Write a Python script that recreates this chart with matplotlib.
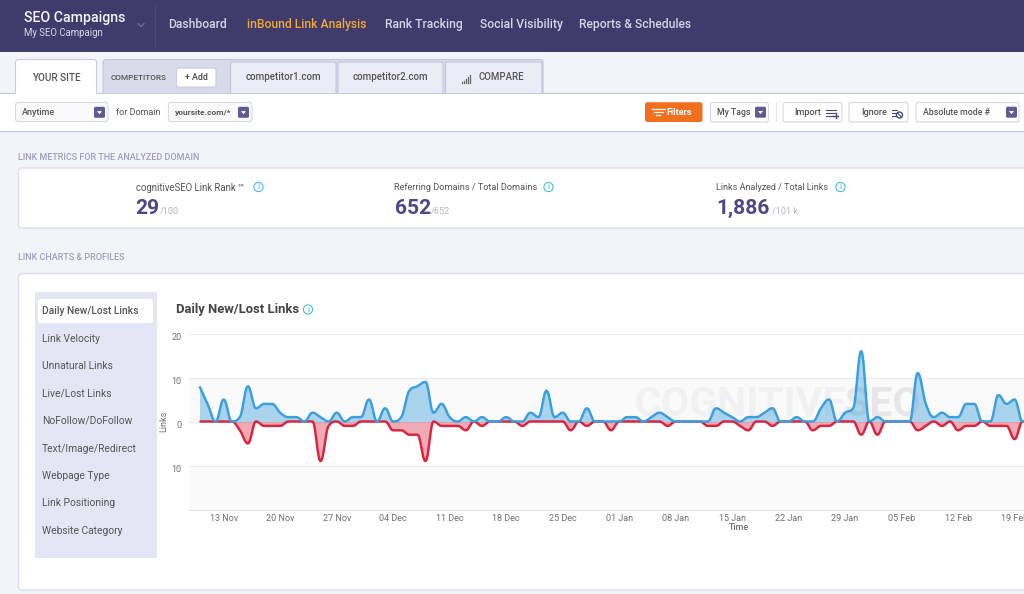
import numpy as np
import matplotlib
matplotlib.use("Agg")
import matplotlib.pyplot as plt
from matplotlib.patches import FancyBboxPatch, Rectangle, Circle, Polygon
from matplotlib.transforms import ScaledTranslation

new_links = [8,4,0,5,0,1,8,3,4,4, 2,1,1,0,2,1,0,2,0,1, 1,5,0,3,0,1,7,8,9,2,
             4,1,0,1,0,1,0,0,1,0, 0,2,1,7,1,2,0,0,3,0, 0,0,0,1,1,0,1,2,1,0,
             0,0,0,0,3,2,1,0,1,1, 2,3,0,0,1,0,0,3,5,0, 2,3,16,0,1,0,0,0,0,11,
             4,1,2,1,1,4,4,0,0,6, 4,5,0,0]
lost_links = [0,0,0,0,0,-2,-5,0,-1,-1, -1,0,0,0,0,-9,-1,0,-1,-1, 0,0,0,0,-2,-2,-3,-3,-9,0,
              -1,-1,-1,-2,0,-1,0,0,0,0, -1,0,0,0,0,0,-2,0,-1,0, 0,-2,0,0,0,0,0,0,-1,0,
              0,0,0,-1,-1,0,0,-1,-2,0, 0,-1,0,0,0,0,-2,-1,-1,0, 0,0,-3,0,-3,0,0,0,0,-2,
              -1,0,-1,0,-2,-1,-1,0,-1,-1, -1,-4,0,0]
days = list(range(len(new_links)))
date_labels = ["13 Nov","20 Nov","27 Nov","04 Dec","11 Dec","18 Dec","25 Dec","01 Jan",
               "08 Jan","15 Jan","22 Jan","29 Jan","05 Feb","12 Feb","19 Feb"]
date_ticks = [3,10,17,24,31,38,45,52,59,66,73,80,87,94,101]
y_ticks = [-20,-10,0,10,20]
y_labels = ["","10","0","10","20"]
nav_items = ["Dashboard","inBound Link Analysis","Rank Tracking","Social Visibility","Reports & Schedules"]
side_items = ["Daily New/Lost Links","Link Velocity","Unnatural Links","Live/Lost Links","NoFollow/DoFollow",
              "Text/Image/Redirect","Webpage Type","Link Positioning","Website Category"]

FONT = ["Roboto","DejaVu Sans"]
plt.rcParams["font.family"] = FONT
fig = plt.figure(figsize=(10.24,5.94), dpi=100, facecolor="#f3f4f9")
pg = fig.add_axes([0,0,1,1]); pg.set_xlim(0,1024); pg.set_ylim(594,0); pg.axis("off")

def px(s): return s*0.72
def rect(x0,y0,x1,y1,fc,ec="none",r=0,lw=0.8,z=1):
    if r:
        p = FancyBboxPatch((x0,y0),x1-x0,y1-y0,boxstyle=f"round,pad=0,rounding_size={r}",fc=fc,ec=ec,lw=lw,zorder=z)
    else:
        p = Rectangle((x0,y0),x1-x0,y1-y0,fc=fc,ec=ec,lw=lw,zorder=z)
    pg.add_patch(p)
def txt(x,y,s,size,color="#555",weight="normal",ha="left",z=5,**k):
    pg.text(x,y,s,fontsize=px(size),color=color,fontweight=weight,ha=ha,va="center",zorder=z,**k)
def info(x,y):
    pg.add_patch(Circle((x,y),4.6,fc="white",ec="#45bfe6",lw=0.8,zorder=5))
    txt(x,y+0.3,"i",8,"#35aede",ha="center")
def drop(x,y):
    rect(x-5.5,y-5.5,x+5.5,y+5.5,"#5f5b94",r=1.5,z=4)
    pg.add_patch(Polygon([(x-2.5,y-1.2),(x+2.5,y-1.2),(x,y+2)],fc="white",ec="none",zorder=5))

# header
rect(0,0,1024,51.5,"#3f3b6c")
pg.plot([155,155],[5,46],color="#4d4a7b",lw=0.8,zorder=2)
txt(24,18,"SEO Campaigns",14.1,"#f3f3f8",weight="medium")
txt(24,32.5,"My SEO Campaign",9.6,"#d8d8e8")
pg.plot([138,141,144],[23.5,26.5,23.5],color="#77749f",lw=0.8,zorder=3)
for x,s,c in zip([168.5,247,385,480.5,579],nav_items,["#d4d5e6","#f0a932","#d4d5e6","#d4d5e6","#d4d5e6"]):
    txt(x,24.8,s,12.1,c,weight="medium")

# tabs + toolbar
rect(0,93,1024,130.5,"white")
pg.plot([0,1024],[93.3,93.3],color="#c9cade",lw=0.9,zorder=2)
pg.plot([0,1024],[130.7,130.7],color="#c9cade",lw=0.9,zorder=2)
rect(103,59.5,543,95,"#d9daea",ec="#c4c5dc",r=3,z=2)
rect(15.5,59.5,96.5,94,"white",ec="#c9cade",r=3,z=3)
rect(16.2,88,95.8,96,"white",z=3)
txt(56,78,"YOUR SITE",10,"#555",weight="medium",ha="center")
txt(111,78,"COMPETITORS",8.3,"#555",weight="medium")
rect(176.5,68,216,87,"white",ec="#c9cade",r=2,z=3)
txt(196,77,"+ Add",8.8,"#444",weight="medium",ha="center")
for x0,x1,s in [(230.5,336,"competitor1.com"),(338,443,"competitor2.com")]:
    rect(x0,62,x1,96,"#ebecf5",ec="#c4c5dc",r=2,z=3)
    txt((x0+x1)/2,77.5,s,9.8,"#555",weight="medium",ha="center")
rect(445.5,62,542,96,"#ebecf5",ec="#c4c5dc",r=2,z=3)
txt(478.5,77.5,"COMPARE",9.7,"#555",weight="medium")
for i,h in enumerate([1,2,4,6,8]):
    pg.plot([462+i*2.1]*2,[83-h,83],color="#666",lw=0.9,zorder=5)
rect(0,93.5,1024,96.5,"white",z=3.5)
rect(97,93.3,1024,93.9,"#c9cade",z=4)
for a,b,l,sz,tx,dx in [(15.5,108,"Anytime",9,22,99.5),(168.5,252,"yoursite.com/*",8.4,175,243.5)]:
    rect(a,102.5,b,121.5,"#fafafc",ec="#d5d6e6",r=2.5,z=4)
    txt(tx,112.3,l,sz,"#555",weight="bold" if a>100 else "medium")
    drop(dx,112.3)
txt(116,112.5,"for Domain",9,"#555")
rect(645,102.2,702.5,122,"#f26f1e",r=2.5,z=4)
txt(666.5,112.3,"Filters",9,"white",weight="bold")
for w,yy in [(6.5,109),(4.5,112),(2,115)]:
    pg.plot([658-w,658+w],[yy,yy],color="white",lw=0.9,zorder=5)
rect(710.5,102.5,768.5,122,"white",ec="#d5d6e6",r=2.5,z=4)
txt(717,112.2,"My Tags",8.8,"#555",weight="medium"); drop(760.5,112.2)
pg.plot([776,776],[103,121],color="#e3e4ee",lw=0.8,zorder=4)
rect(783,102.5,842,122,"white",ec="#d5d6e6",r=2.5,z=4)
txt(794,112.2,"Import",9.2,"#555",weight="medium")
for yy,x1 in [(110,836),(113,836),(116,833)]:
    pg.plot([826,x1],[yy,yy],color="#47477a",lw=0.8,zorder=5)
pg.plot([833,838],[115.5,115.5],color="#47477a",lw=1,zorder=5); pg.plot([835.5,835.5],[113,118],color="#47477a",lw=1,zorder=5)
rect(849,102.5,908,122,"white",ec="#d5d6e6",r=2.5,z=4)
txt(861,112.2,"Ignore",9.2,"#555",weight="medium")
for yy in [110,113,116]:
    pg.plot([892,897],[yy,yy],color="#47477a",lw=0.8,zorder=5)
pg.add_patch(Circle((899.5,115),3,fc="white",ec="#47477a",lw=1,zorder=6))
pg.plot([897.5,901.5],[113,117],color="#47477a",lw=0.8,zorder=7)
rect(916,102.5,1019,122,"white",ec="#d5d6e6",r=2.5,z=4)
txt(923,112.2,"Absolute mode #",8.8,"#555",weight="medium"); drop(1011.5,112.2)

# metrics
txt(18.5,157,"LINK METRICS FOR THE ANALYZED DOMAIN",9,"#9d9dbf",weight="medium")
rect(18.5,168,1040,228,"white",ec="#dcdded",r=3,lw=1)
for x,lab,ls,big,small,sx,ix in [(135.5,"cognitiveSEO Link Rank ™",9.7,"29","/100",159.5,258.5),
                                 (394.5,"Referring Domains / Total Domains",9.15,"652","/652",431,548.5),
                                 (716,"Links Analyzed / Total Links",9.05,"1,886","/101 k",772.5,840.5)]:
    txt(x,188,lab,ls,"#555")
    txt(x,208.5,big,21,"#4c4787",weight="bold")
    txt(sx,211.5,small,9.2,"#b5b5c4")
    info(ix,187)
txt(18.5,257.5,"LINK CHARTS & PROFILES",9,"#9d9dbf",weight="medium")
rect(18.5,273.5,1040,590,"white",ec="#dcdded",r=3,lw=1)
rect(34.5,292,157,558,"#e4e6f5")
rect(38,299,153,323,"white",r=2,z=2)
for i,(s,y) in enumerate(zip(side_items,[311,338.5,366,393.5,421,448.5,476,503.5,530.5])):
    txt(42,y,s,10.3,"#555",weight="medium" if i==0 else "normal")
txt(176.5,310,"Daily New/Lost Links",13,"#444",weight="bold")
info(308,309.5)

# chart
def spline(x,y,n=14,sm=1.5,den=2.5):
    x=np.asarray(x,float); y=np.asarray(y,float); m=len(x)
    lx=np.zeros(m); ly=np.zeros(m); rx=np.zeros(m); ry=np.zeros(m)
    for i in range(m):
        if i==0 or i==m-1:
            lx[i]=rx[i]=x[i]; ly[i]=ry[i]=y[i]; continue
        lx[i]=(sm*x[i]+x[i-1])/den; ly[i]=(sm*y[i]+y[i-1])/den
        rx[i]=(sm*x[i]+x[i+1])/den; ry[i]=(sm*y[i]+y[i+1])/den
        c=(ry[i]-ly[i])*(rx[i]-x[i])/(rx[i]-lx[i])+y[i]-ry[i]
        ly[i]+=c; ry[i]+=c
        if ly[i]>y[i-1] and ly[i]>y[i]:
            ly[i]=max(y[i-1],y[i]); ry[i]=2*y[i]-ly[i]
        elif ly[i]<y[i-1] and ly[i]<y[i]:
            ly[i]=min(y[i-1],y[i]); ry[i]=2*y[i]-ly[i]
        if ry[i]>y[i+1] and ry[i]>y[i]:
            ry[i]=max(y[i+1],y[i]); ly[i]=2*y[i]-ry[i]
        elif ry[i]<y[i+1] and ry[i]<y[i]:
            ry[i]=min(y[i+1],y[i]); ly[i]=2*y[i]-ry[i]
    t=np.linspace(0,1,n,endpoint=False)[:,None]
    X=[];Y=[]
    for i in range(m-1):
        a=(1-t)**3;b=3*(1-t)**2*t;c=3*(1-t)*t**2;d=t**3
        X.append((a*x[i]+b*rx[i]+c*lx[i+1]+d*x[i+1]).ravel())
        Y.append((a*y[i]+b*ry[i]+c*ly[i+1]+d*y[i+1]).ravel())
    return np.r_[np.concatenate(X),x[-1]],np.r_[np.concatenate(Y),y[-1]]

ax_l,ax_r,ax_t,ax_b=189,1024,333.5,509.5
ax=fig.add_axes([ax_l/1024,1-ax_b/594,(ax_r-ax_l)/1024,(ax_b-ax_t)/594])
ax.patch.set_alpha(0)
PPD=8.07; X0=199.5
ax.set_xlim((ax_l-X0)/PPD,(ax_r-X0)/PPD); ax.set_ylim(-20,20)
ax.axhspan(0,10,color="#fafafa",lw=0,zorder=0)
ax.axhspan(-20,-10,color="#fbfbfb",lw=0,zorder=0)
wx=lambda p:(p-X0)/PPD
wy=lambda p:20-(p-ax_t)/(ax_b-ax_t)*40
ax.text(wx(634),wy(405),"COGNITIVE",fontsize=29.5,color="#f1f1f3",fontweight="bold",ha="left",va="center",zorder=1)
ax.text(wx(845),wy(405),"SEO",fontsize=29.5,color="#e7e7ea",fontweight="bold",ha="left",va="center",zorder=1)
xb,yb=spline(days,new_links); xr,yr=spline(days,lost_links)
ax.fill_between(xb,yb,0,color="#3d9fdb",alpha=0.42,lw=0,zorder=2)
ax.fill_between(xr,yr,0,color="#d9213f",alpha=0.38,lw=0,zorder=2)
ax.plot(xr,yr,color="#d8243f",lw=1.75,zorder=3,solid_capstyle="butt")
ax.plot(xb,yb,color="#3a9fdc",lw=1.75,zorder=4,solid_capstyle="butt")
ax.set_yticks(y_ticks); ax.set_yticklabels(y_labels)
ax.set_xticks(date_ticks); ax.set_xticklabels(date_labels)
ax.tick_params(length=0,labelsize=px(9),labelcolor="#6f6f6f",pad=3)
ax.tick_params(axis="y",pad=5.5)
shift=ScaledTranslation(0,-2.5/100,fig.dpi_scale_trans)
for lab in ax.get_yticklabels():
    lab.set_transform(lab.get_transform()+shift)
ax.grid(axis="y",color="#ececec",lw=0.9); ax.set_axisbelow(True)
for s in ax.spines.values(): s.set_visible(False)
ax.spines["bottom"].set_visible(True); ax.spines["bottom"].set_color("#e6e6e6"); ax.spines["bottom"].set_linewidth(0.9)
pg.text(164,421.5,"Links",fontsize=px(9),color="#6f6f6f",rotation=90,ha="center",va="center")
pg.text(739,528,"Time",fontsize=px(9),color="#6f6f6f",ha="center",va="center",fontweight="medium")
fig.savefig("out.png",dpi=100,facecolor=fig.get_facecolor())
